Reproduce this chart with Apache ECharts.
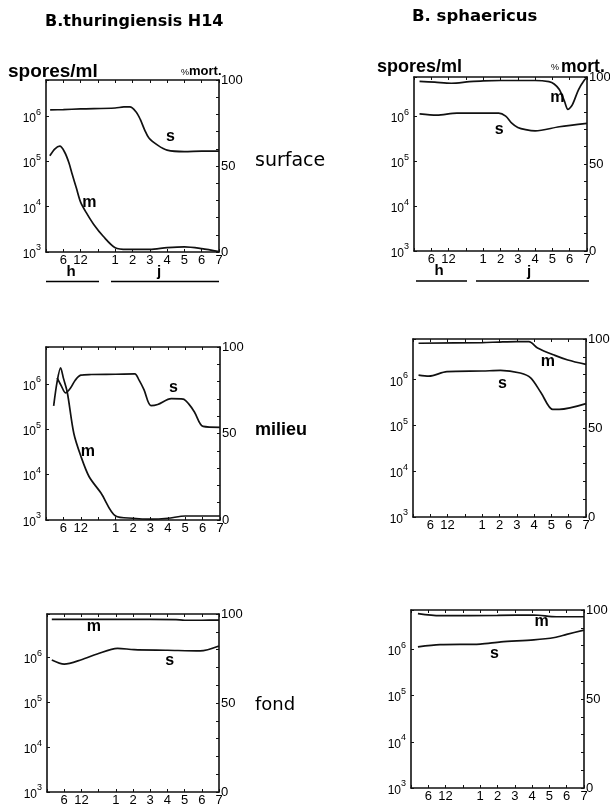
<!DOCTYPE html>
<html><head><meta charset="utf-8">
<script src="https://cdn.jsdelivr.net/npm/echarts@6/dist/echarts.min.js"></script>
<style>html,body{margin:0;padding:0;background:#fff}#c{width:610px;height:805px}</style>
</head><body><div id="c"></div>
<script>
// ---- tick labels ----
// x axis position -> label (first day in hours 6, 12; then days 1..7)
const xTickLabels = {1:'6', 2:'12', 4:'1', 5:'2', 6:'3', 7:'4', 8:'5', 9:'6', 10:'7'};
const mortTickLabels = [0, 50, 100];
const sporeExponents = [3, 4, 5, 6];

// ---- data (time in days, spores/ml, % mortality) ----
// B. thuringiensis H14 - surface
const btSurfSporesT = [0.06, 0.25, 0.5, 1.0, 1.5, 1.85, 2.2, 2.45, 2.7, 2.95, 3.45, 4.0, 5.0, 6.0, 7.0];
const btSurfSporesV = [1.38e6, 1.4e6, 1.45e6, 1.52e6, 1.6e6, 1.6e6, 1.25e6, 8.5e5, 5.0e5, 3.3e5, 2.3e5, 1.78e5, 1.65e5, 1.7e5, 1.7e5];
const btSurfMortT = [0.055, 0.13, 0.2, 0.27, 0.33, 0.38, 0.44, 0.5, 0.58, 0.69, 0.83, 1.0, 1.7, 3.0, 4.0, 5.0, 6.0, 7.0];
const btSurfMortV = [56, 60, 61.5, 58, 52, 45, 37, 29, 23, 16, 9, 2.5, 1.5, 1.5, 2.5, 3, 2, 0.3];
// B. sphaericus - surface
const bsSurfSporesT = [0.08, 0.33, 0.62, 1.0, 1.9, 2.3, 2.65, 3.0, 3.45, 4.0, 5.4, 7.0];
const bsSurfSporesV = [1.12e6, 1.05e6, 1.17e6, 1.17e6, 1.17e6, 1.0e6, 7.0e5, 5.6e5, 5.0e5, 4.7e5, 5.8e5, 6.9e5];
const bsSurfMortT = [0.08, 0.3, 0.54, 0.8, 1.0, 2.0, 3.0, 4.0, 4.8, 5.1, 5.4, 5.7, 5.9, 6.15, 6.5, 6.85, 7.0];
const bsSurfMortV = [97.5, 97, 96.4, 97.3, 97.8, 98, 98, 98, 97.3, 96, 92.8, 86, 81.4, 84, 92.5, 98.3, 99.5];
// B. thuringiensis H14 - milieu
const btMidSporesT = [0.16, 0.22, 0.28, 0.35, 0.42, 0.5, 0.65, 1.0, 2.1, 2.35, 2.63, 3.03, 3.42, 4.2, 4.88, 5.2, 5.53, 6.03, 7.0];
const btMidSporesV = [1.35e6, 9.0e5, 6.3e5, 8.0e5, 1.2e6, 1.55e6, 1.6e6, 1.62e6, 1.65e6, 1.2e6, 7.4e5, 3.3e5, 3.5e5, 4.7e5, 4.6e5, 3.6e5, 2.4e5, 1.15e5, 1.1e5];
const btMidMortT = [0.11, 0.16, 0.21, 0.25, 0.305, 0.4, 0.5, 0.62, 0.79, 1.0, 2.0, 3.0, 4.0, 5.0, 7.0];
const btMidMortV = [66, 80, 88, 82, 74, 50, 37, 25, 15.6, 2.3, 1, 0.5, 1, 2.3, 2.3];
// B. sphaericus - milieu
const bsMidSporesT = [0.08, 0.23, 0.49, 1.0, 2.06, 3.2, 3.8, 4.4, 5.07, 5.45, 7.0];
const bsMidSporesV = [1.26e6, 1.2e6, 1.5e6, 1.55e6, 1.6e6, 1.4e6, 1.1e6, 5.2e5, 2.25e5, 2.25e5, 3.0e5];
const bsMidMortT = [0.08, 1.0, 2.0, 3.0, 3.7, 4.2, 5.2, 5.95, 7.0];
const bsMidMortV = [97.6, 98, 98.3, 98.5, 98.5, 95, 90.8, 88.2, 85.7];
// B. thuringiensis H14 - fond
const btBotSporesT = [0.07, 0.25, 0.5, 0.73, 1.1, 2.06, 4.0, 5.9, 7.0];
const btBotSporesV = [8.8e5, 7.1e5, 8.9e5, 1.2e6, 1.6e6, 1.5e6, 1.45e6, 1.4e6, 1.8e6];
const btBotMortT = [0.07, 1.0, 3.0, 4.5, 5.0, 6.0, 7.0];
const btBotMortV = [97, 97, 97, 96.8, 96.5, 96.5, 96.6];
// B. sphaericus - fond
const bsBotSporesT = [0.1, 0.42, 1.0, 2.2, 4.1, 5.3, 6.0, 7.0];
const bsBotSporesV = [1.13e6, 1.26e6, 1.3e6, 1.45e6, 1.6e6, 1.8e6, 2.1e6, 2.6e6];
const bsBotMortT = [0.1, 0.42, 2.0, 4.1, 5.4, 7.0];
const bsBotMortV = [98, 96.8, 97, 97.2, 96.2, 96.2];

// curve name labels: [time (days), value]
const btSurfLabels = {s: [4.2, 3.5e5], m: [0.625, 28.6]};
const bsSurfLabels = {s: [1.92, 4.9e5], m: [5.28, 88]};
const btMidLabels = {s: [4.33, 8.1e5], m: [0.6, 39.7]};
const bsMidLabels = {s: [2.17, 8.3e5], m: [4.79, 87.4]};
const btBotLabels = {s: [4.13, 8.7e5], m: [0.68, 93.2]};
const bsBotLabels = {s: [1.82, 8.0e5], m: [4.55, 93.4]};

// broken time scale: first 24 h expanded (6 h per unit), then 1 unit per day
function tpos(d) { return d <= 1 ? d * 4 : 3 + d; }
function pairs(t, v) { return t.map((d, i) => [tpos(d), v[i]]); }

const panels = [
  {grid: {left: 46, top: 80, width: 173, height: 172}, logMax: 6.8,
   sT: btSurfSporesT, sV: btSurfSporesV, mT: btSurfMortT, mV: btSurfMortV, lab: btSurfLabels},
  {grid: {left: 414, top: 77, width: 173, height: 174}, logMax: 6.87,
   sT: bsSurfSporesT, sV: bsSurfSporesV, mT: bsSurfMortT, mV: bsSurfMortV, lab: bsSurfLabels},
  {grid: {left: 46, top: 347, width: 174, height: 173}, logMax: 6.81,
   sT: btMidSporesT, sV: btMidSporesV, mT: btMidMortT, mV: btMidMortV, lab: btMidLabels},
  {grid: {left: 413, top: 339, width: 173, height: 178}, logMax: 6.89,
   sT: bsMidSporesT, sV: bsMidSporesV, mT: bsMidMortT, mV: bsMidMortV, lab: bsMidLabels},
  {grid: {left: 47, top: 614, width: 172, height: 178}, logMax: 6.97,
   sT: btBotSporesT, sV: btBotSporesV, mT: btBotMortT, mV: btBotMortV, lab: btBotLabels},
  {grid: {left: 411, top: 610, width: 173, height: 178}, logMax: 6.85,
   sT: bsBotSporesT, sV: bsBotSporesV, mT: bsBotMortT, mV: bsBotMortV, lab: bsBotLabels}
];

const FONT = 'Liberation Sans';
const lineCol = '#111';
const grids = [], xAxes = [], yAxes = [], series = [];

function nameLabel(txt, coord) {
  return {
    symbol: 'none', symbolSize: 0, silent: true,
    data: [{coord: coord, symbol: 'circle', symbolSize: 1, itemStyle: {color: 'rgba(0,0,0,0)'},
      label: {show: true, position: 'inside', formatter: txt, color: '#000',
        fontFamily: FONT, fontWeight: 'bold', fontSize: 16}}]
  };
}

panels.forEach((p, i) => {
  grids.push(Object.assign({show: false, outerBoundsMode: 'none', containLabel: false}, p.grid));
  const axLine = {show: true, onZero: false, lineStyle: {color: lineCol, width: 1.6}};
  const tick = {show: true, inside: true, length: 3, lineStyle: {color: lineCol}};
  xAxes.push({
    type: 'value', gridIndex: i, position: 'bottom', min: 0, max: 10, interval: 1,
    axisLine: axLine, splitLine: {show: false}, axisTick: tick,
    axisLabel: {margin: 2, color: '#000', fontFamily: FONT, fontSize: 13,
      formatter: v => xTickLabels[v] || ''}
  });
  xAxes.push({
    type: 'value', gridIndex: i, position: 'top', min: 0, max: 10, interval: 1,
    axisLine: axLine, splitLine: {show: false}, axisTick: tick,
    axisLabel: {show: false}
  });
  yAxes.push({
    type: 'log', logBase: 10, gridIndex: i, position: 'left',
    min: 1000, max: Math.pow(10, p.logMax),
    axisLine: axLine, splitLine: {show: false}, minorTick: {show: false}, axisTick: tick,
    axisLabel: {margin: 5, color: '#000',
      formatter: v => {
        const l = Math.log10(v), e = Math.round(l);
        return (Math.abs(l - e) < 1e-6 && sporeExponents.includes(e)) ? '{b|10}{e|' + e + '}' : '';
      },
      rich: {
        b: {fontFamily: FONT, fontSize: 12, color: '#000', verticalAlign: 'bottom', lineHeight: 17},
        e: {fontFamily: FONT, fontSize: 9, color: '#000', verticalAlign: 'top', lineHeight: 17}
      }}
  });
  yAxes.push({
    type: 'value', gridIndex: i, position: 'right', min: 0, max: 100, interval: 10,
    axisLine: axLine, splitLine: {show: false}, axisTick: tick,
    axisLabel: {margin: 2, color: '#000', fontFamily: FONT, fontSize: 13,
      formatter: v => mortTickLabels.includes(v) ? String(v) : ''}
  });
  const ls = {color: lineCol, width: 1.7};
  series.push({
    type: 'line', xAxisIndex: 2 * i, yAxisIndex: 2 * i, data: pairs(p.sT, p.sV),
    symbol: 'none', smooth: 0.3, lineStyle: ls, itemStyle: {color: lineCol}, silent: true,
    markPoint: nameLabel('s', [tpos(p.lab.s[0]), p.lab.s[1]])
  });
  series.push({
    type: 'line', xAxisIndex: 2 * i, yAxisIndex: 2 * i + 1, data: pairs(p.mT, p.mV),
    symbol: 'none', smooth: 0.3, lineStyle: ls, itemStyle: {color: lineCol}, silent: true,
    markPoint: nameLabel('m', [tpos(p.lab.m[0]), p.lab.m[1]])
  });
});

function txt(x, y, s, font, size, weight, align) {
  return {type: 'text', x: x, y: y, silent: true,
    style: {text: s, fill: '#000', fontFamily: font, fontSize: size, fontWeight: weight || 'normal',
      align: align || 'left', verticalAlign: 'middle'}};
}
function hline(x1, x2, y) {
  return {type: 'line', silent: true, shape: {x1: x1, y1: y, x2: x2, y2: y},
    style: {stroke: '#000', lineWidth: 1.6}};
}

const graphics = [
  txt(45, 22, 'B.thuringiensis H14', 'DejaVu Sans', 16, 'bold'),
  txt(412, 17, 'B. sphaericus', 'DejaVu Sans', 16.5, 'bold'),
  txt(8, 72, 'spores/ml', FONT, 19, 'bold'),
  txt(181, 73, '%', FONT, 9, 'normal'),
  txt(189, 71, 'mort.', FONT, 13, 'bold'),
  txt(377, 67, 'spores/ml', FONT, 18, 'bold'),
  txt(551, 68, '%', FONT, 9, 'normal'),
  txt(561, 67, 'mort.', FONT, 17.5, 'bold'),
  txt(255, 161, 'surface', 'DejaVu Sans', 19, 'normal'),
  txt(255, 430, 'milieu', FONT, 18, 'bold'),
  txt(255, 705, 'fond', 'DejaVu Sans', 18, 'normal'),
  txt(71, 272, 'h', FONT, 15, 'bold', 'center'),
  txt(159, 272, 'j', FONT, 15, 'bold', 'center'),
  txt(439, 271, 'h', FONT, 15, 'bold', 'center'),
  txt(529, 272, 'j', FONT, 15, 'bold', 'center'),
  hline(46, 99, 281.5), hline(111, 219, 281.5),
  hline(416, 467, 281), hline(476, 589, 281)
];

const chart = echarts.init(document.getElementById('c'), null, {renderer: 'canvas'});
chart.setOption({
  animation: false,
  backgroundColor: '#fff',
  grid: grids, xAxis: xAxes, yAxis: yAxes, series: series,
  graphic: graphics
});
</script></body></html>
